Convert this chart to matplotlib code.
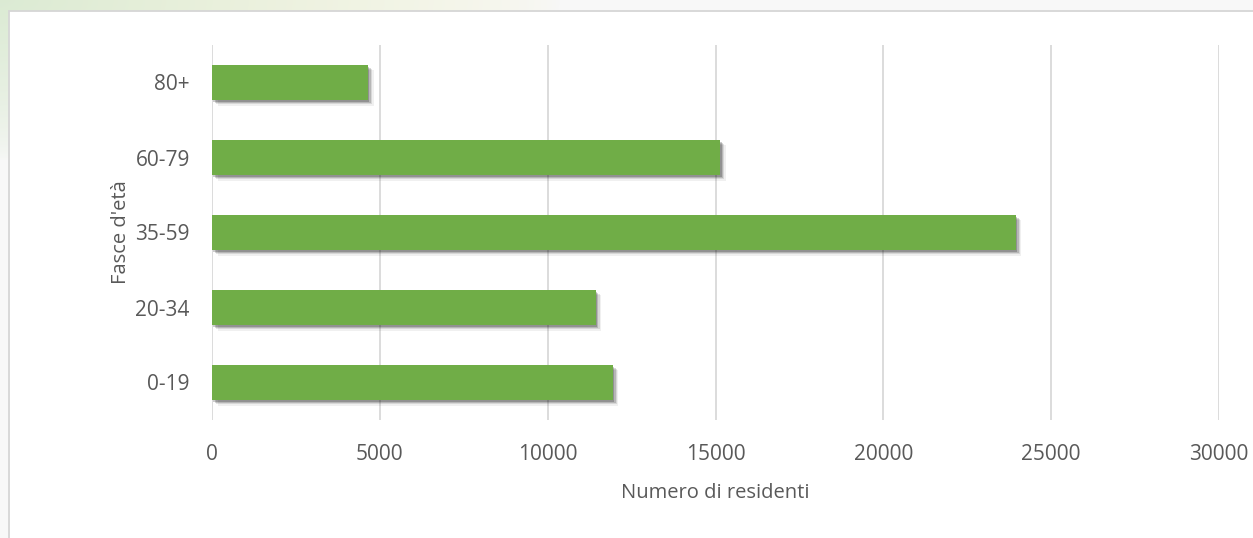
import numpy as np
import matplotlib
matplotlib.use("Agg")
import matplotlib.pyplot as plt
import matplotlib.patheffects as pe
from matplotlib.patches import Rectangle

categories = ["0-19", "20-34", "35-59", "60-79", "80+"]
residents = [11940, 11430, 23950, 15140, 4650]
x_ticks = [0, 5000, 10000, 15000, 20000, 25000, 30000]
x_label = "Numero di residenti"
y_label = "Fasce d'età"

plt.rcParams['font.family'] = ['Open Sans', 'DejaVu Sans']
text_color = '#595959'
bar_color = '#70AD47'
grid_color = '#d9d9d9'

W, H = 1253, 538
fig = plt.figure(figsize=(W / 100, H / 100), dpi=100)

# background with faint watermark in the top-left
bg = fig.add_axes([0, 0, 1, 1], zorder=-10)
bg.set_axis_off()
yy, xx = np.mgrid[0:H, 0:W]
base = np.array([0.973, 0.973, 0.973])
green = np.array([0.86, 0.92, 0.83])
yellow = np.array([0.95, 0.95, 0.82])
d = np.sqrt((xx / 560.0) ** 2 + (yy / 160.0) ** 2)
w = np.clip(1 - d, 0, 1) ** 0.6
mix = (xx / 560.0).clip(0, 1)[..., None]
col = green * (1 - mix) + yellow * mix
img = base * (1 - w[..., None]) + col * w[..., None]
bg.imshow(img, extent=[0, W, H, 0], aspect='auto', interpolation='bilinear')
bg.set_xlim(0, W)
bg.set_ylim(H, 0)
bg.add_patch(Rectangle((9, 11), W + 20, H + 20, facecolor='white',
                       edgecolor='#d6d6d6', linewidth=1.3))

ax = fig.add_axes([212 / W, 1 - 420 / H, (1219 - 212) / W, (420 - 45) / H])
ax.set_facecolor('none')
y = np.arange(len(categories))
bars = ax.barh(y, residents, height=0.47, color=bar_color, zorder=3)
for b in bars:
    b.set_path_effects([
        pe.SimplePatchShadow(offset=(4, -4), shadow_rgbFace='#000000', alpha=0.06),
        pe.SimplePatchShadow(offset=(3, -3), shadow_rgbFace='#000000', alpha=0.1),
        pe.SimplePatchShadow(offset=(2, -2), shadow_rgbFace='#000000', alpha=0.15),
        pe.SimplePatchShadow(offset=(1, -1.5), shadow_rgbFace='#000000', alpha=0.2),
        pe.Normal()])

ax.set_xlim(0, 30000)
ax.set_ylim(-0.5, len(categories) - 0.5)
ax.set_xticks(x_ticks)
ax.set_xticklabels([str(t) for t in x_ticks])
ax.set_yticks(y)
ax.set_yticklabels(categories)
ax.grid(axis='x', color=grid_color, linewidth=1.3, zorder=0)
ax.set_axisbelow(True)
for s in ax.spines.values():
    s.set_visible(False)
ax.tick_params(axis='both', length=0, labelsize=15, colors=text_color)
ax.tick_params(axis='x', pad=17)
ax.tick_params(axis='y', pad=16)
ax.set_xlabel(x_label, fontsize=14.5, color=text_color, labelpad=13)
ax.set_ylabel(y_label, fontsize=14.5, color=text_color, labelpad=3)

fig.savefig("out.png", dpi=100)
